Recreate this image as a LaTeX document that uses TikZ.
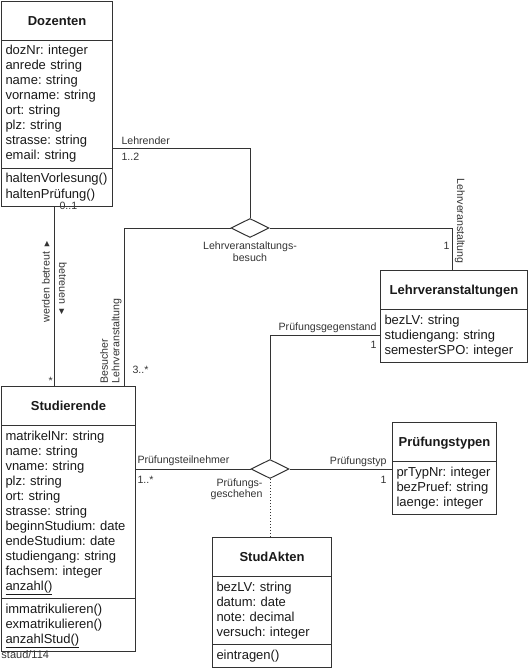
\documentclass[tikz,border=0pt]{standalone}
\usepackage{fontspec}
\setmainfont{Liberation Sans}
\usetikzlibrary{shapes.multipart, shapes.geometric, positioning}
\newcommand{\clsfont}{\fontsize{13}{15}\selectfont\frenchspacing}
\newcommand{\lblfont}{\fontsize{10.6}{11.5}\selectfont}
\newcommand{\clstitle}[1]{\hbox to\hsize{\hss\rule[-11pt]{0pt}{31pt}\textbf{#1}\hss}}
\newcommand{\tri}{{\fontsize{9}{9}\selectfont ►}}

\begin{document}
\begin{tikzpicture}[x=1pt, y=-1pt, line width=1pt,
  cls/.style={rectangle split, rectangle split parts=3, draw=black!80, align=left,
    inner xsep=4pt, inner ysep=3.5pt, font=\clsfont, text=black!90, anchor=north west},
  cls2/.style={cls, rectangle split parts=2},
  rel/.style={diamond, draw=black!80, fill=white, minimum width=38pt,
    minimum height=19pt, inner sep=0pt},
  lbl/.style={font=\lblfont, text=black!80, inner sep=0pt},
  con/.style={draw=black!80}]
  \useasboundingbox (0,0) rectangle (530,668);
  % Klassen
  \node[cls, text width=103pt] (doz) at (1,1) {\clstitle{Dozenten}
    \nodepart{second}\strut dozNr: integer\\ anrede string\\ name: string\\ vorname: string\\
      ort: string\\ plz: string\\ strasse: string\\ email: string\strut
    \nodepart{third}\strut haltenVorlesung()\\ haltenPrüfung()\strut};
  \node[cls, text width=126pt] (stud) at (1,386) {\clstitle{Studierende}
    \nodepart{second}\strut matrikelNr: string\\ name: string\\ vname: string\\ plz: string\\
      ort: string\\ strasse: string\\ beginnStudium: date\\ endeStudium: date\\
      studiengang: string\\ fachsem: integer\\ \underline{anzahl()}\strut
    \nodepart{third}\strut immatrikulieren()\\ exmatrikulieren()\\ \underline{anzahlStud()}\strut};
  \node[cls2, text width=139pt] (lv) at (380,270) {\clstitle{Lehrveranstaltungen}
    \nodepart{second}\strut bezLV: string\\ studiengang: string\\ semesterSPO: integer\strut};
  \node[cls2, text width=96pt] (pt) at (392,422) {\clstitle{Prüfungstypen}
    \nodepart{second}\strut prTypNr: integer\\ bezPruef: string\\ laenge: integer\strut};
  \node[cls, text width=111pt] (sa) at (212,537) {\clstitle{StudAkten}
    \nodepart{second}\strut bezLV: string\\ datum: date\\ note: decimal\\ versuch: integer\strut
    \nodepart{third}\strut eintragen()\strut};
  % Beziehungen
  \node[rel] (lvb) at (250,228) {};
  \node[rel] (pg) at (270,469) {};
  \coordinate (lehr) at (250,149);
  \draw[con] (doz.east |- lehr) -- (lehr) -- (lvb.north);
  \draw[con] ([xshift=53pt]doz.south west) -- ([xshift=53pt]stud.north west);
  \draw[con] (lvb.west) -| ([xshift=123pt]stud.north west);
  \draw[con] (lvb.east) -| ([xshift=72pt]lv.north west);
  \draw[con] (pg.north) |- ([yshift=-65pt]lv.north west);
  \draw[con] (pg.west) -- (pg.west -| stud.east);
  \draw[con] (pg.east) -- (pg.east -| pt.west);
  \draw[con, dotted] (pg.south) -- (pg.south |- sa.north);
  % Rollen und Kardinalitaeten
  \node[lbl, anchor=base west] (r-lehr) at (121,145) {Lehrender};
  \node[lbl, anchor=base west] (k-lehr) at (121,161) {1..2};
  \node[lbl, align=center, anchor=north] (n-lvb) at (250,241.5) {Lehrveranstaltungs-\\besuch};
  \node[lbl, anchor=base east] (k-lv) at (450,249) {1};
  \node[lbl, rotate=-90, anchor=base west] (r-lv) at (457,178) {Lehrveranstaltung};
  \node[lbl, rotate=90, align=left, anchor=south west] (r-bes) at (122,384) {Besucher\\Lehrveranstaltung};
  \node[lbl, anchor=base west] (k-bes) at (132,373) {3..*};
  \node[lbl, anchor=base west] (k-doz) at (59,209) {0..1};
  \node[lbl, anchor=base west] (k-stud) at (48,384) {*};
  \node[lbl, rotate=90, anchor=base west] (n-wb) at (49.5,323) {werden betreut \tri};
  \node[lbl, rotate=-90, anchor=base west] (n-bt) at (59,262) {betreuen \tri};
  \node[lbl, align=right, anchor=north east] (n-pg) at (263,478) {Prüfungs-\\geschehen};
  \node[lbl, anchor=base west] (r-pt) at (137,463) {Prüfungsteilnehmer};
  \node[lbl, anchor=base west] (k-pt) at (137,483) {1..*};
  \node[lbl, anchor=base east] (r-typ) at (387,464) {Prüfungstyp};
  \node[lbl, anchor=base east] (k-typ) at (387,483) {1};
  \node[lbl, anchor=base east] (r-geg) at (377,330) {Prüfungsgegenstand};
  \node[lbl, anchor=base east] (k-geg) at (377,348) {1};
  \node[lbl, font=\fontsize{11}{12}\selectfont, anchor=base west] (src) at (1,658) {staud/114};
\end{tikzpicture}
\end{document}
